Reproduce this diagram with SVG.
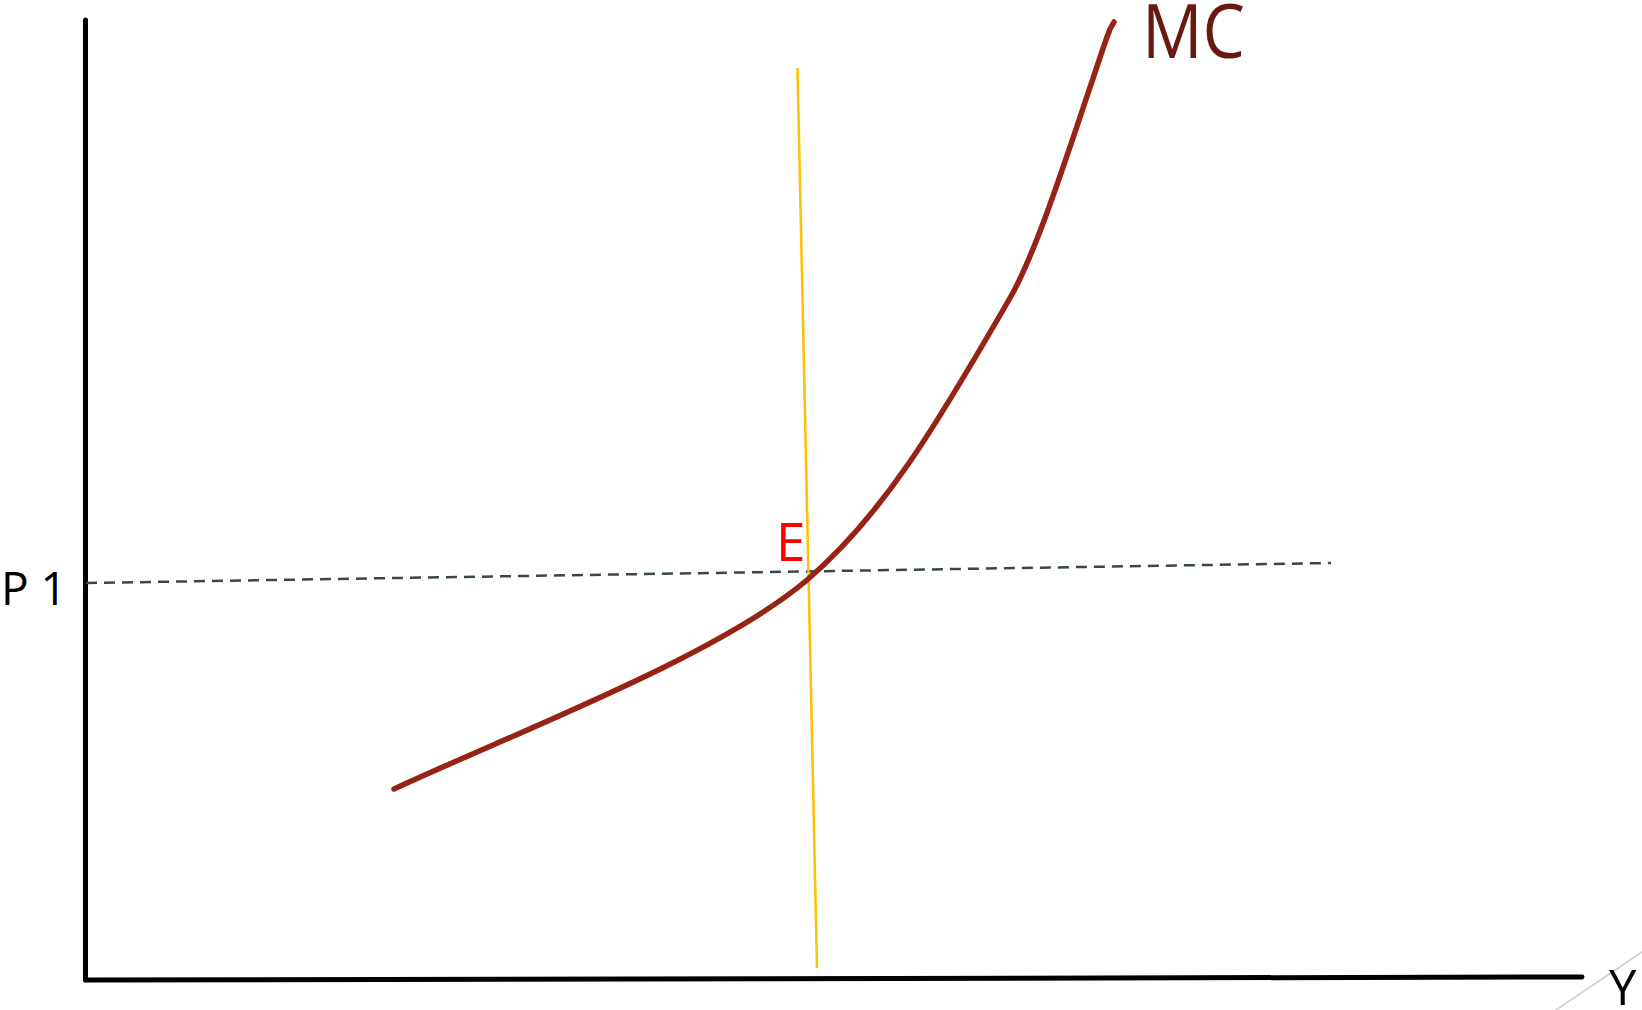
<svg xmlns="http://www.w3.org/2000/svg" width="1642" height="1010" viewBox="0 0 1642 1010">
<style>
.axis{stroke:#000;stroke-width:5;stroke-linecap:round;fill:none}
.lbl{font-family:"Open Sans","Noto Sans",sans-serif;fill:#000}
</style>
<rect width="1642" height="1010" fill="#fff"/>
<g id="connectors">
<line id="y-axis" class="axis" x1="85.5" y1="20" x2="85.5" y2="980"/>
<line id="x-axis" class="axis" x1="85.5" y1="980" x2="1582" y2="977"/>
<line id="p1-line" x1="86" y1="583" x2="1331" y2="563" stroke="#37474f" stroke-width="2.5" stroke-dasharray="11 7"/>
<line id="vertical" x1="797.5" y1="68" x2="817" y2="968" stroke="#ffc000" stroke-width="2.5"/>
<line id="corner" x1="1553" y1="1012" x2="1645" y2="950" stroke="#cccccc" stroke-width="1.5"/>
<path id="mc-curve" fill="none" stroke="#962314" stroke-width="5.5" stroke-linecap="round" stroke-linejoin="round" d="M394,789 C514,733 717,656.5 807,580 C882,516 935,428 1010,298 C1040,246 1077,124 1107,37 C1110,28 1112,25 1114,22"/>
</g>
<g id="label-mc"><text class="lbl" x="1142" y="58" font-size="75" style="fill:#661a10" textLength="103" lengthAdjust="spacingAndGlyphs">MC</text></g>
<g id="label-e"><text class="lbl" x="776" y="561" font-size="53" style="fill:#ff0000">E</text></g>
<g id="label-p1"><text class="lbl" x="1" y="605" font-size="46">P 1</text></g>
<g id="label-y"><text class="lbl" x="1609" y="1005" font-size="49">Y</text></g>
</svg>
